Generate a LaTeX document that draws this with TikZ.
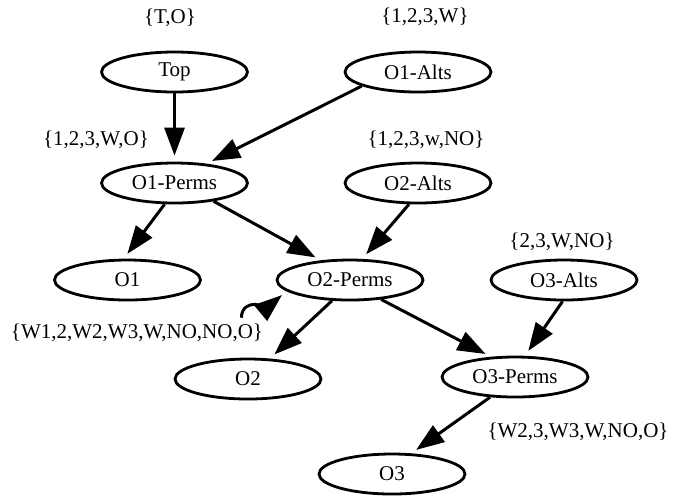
\documentclass[tikz,border=0pt]{standalone}
\usepackage{fontspec}
\setmainfont{Liberation Serif}
\usetikzlibrary{arrows.meta,shapes.geometric}

\begin{document}
\begin{tikzpicture}[x=0.5pt,y=-0.5pt,font=\fontsize{10.5}{12}\selectfont,
  st/.style={ellipse,draw,line width=1.4pt,minimum width=73pt,minimum height=20pt,inner sep=0pt},
  lb/.style={inner sep=1pt},
  ar/.style={line width=1.5pt,-{Triangle[length=14pt,width=10pt]},shorten >=3pt}]
\useasboundingbox (0,0) rectangle (683,500);
% nodes
\node[st] (top) at (174.5,72) {Top};
\node[st] (o1alts) at (418,72) {O1-Alts};
\node[st] (o1perms) at (174.5,183) {O1-Perms};
\node[st] (o2alts) at (418,183) {O2-Alts};
\node[st] (o1) at (127.5,280) {O1};
\node[st] (o2perms) at (350,280) {O2-Perms};
\node[st] (o3alts) at (564,280) {O3-Alts};
\node[st] (o2) at (248,379) {O2};
\node[st] (o3perms) at (515,377) {O3-Perms};
\node[st] (o3) at (392,474) {O3};
% sets
\node[lb] (ltop) at (170,18) {\{T,O\}};
\node[lb] (lo1alts) at (425,17) {\{1,2,3,W\}};
\node[lb] (lo1perms) at (96,140) {\{1,2,3,W,O\}};
\node[lb] (lo2alts) at (426,140) {\{1,2,3,w,NO\}};
\node[lb] (lo3alts) at (562,242) {\{2,3,W,NO\}};
\node[lb] (lo2perms) at (137,333) {\{W1,2,W2,W3,W,NO,NO,O\}};
\node[lb] (lo3perms) at (578,432) {\{W2,3,W3,W,NO,O\}};
% edges
\draw[ar] (top.south) -- (o1perms.north);
\draw[ar] (o1alts.194) -- (o1perms.31);
\draw[ar] (o1perms.245) -- (o1.100);
\draw[ar] (o1perms.335) -- (o2perms.146);
\draw[ar] (o2alts.247) -- (o2perms.60);
\draw[ar] (o3alts.266) -- (o3perms.65);
\draw[ar] (o2perms.229) -- (o2.43);
\draw[ar] (o2perms.328) -- (o3perms.140);
\draw[ar] (o3perms.219) -- (o3.47);
\draw[ar] ([xshift=-12pt,yshift=2pt]lo2perms.north east) to[out=90,in=220] (o2perms.190);
\end{tikzpicture}
\end{document}
